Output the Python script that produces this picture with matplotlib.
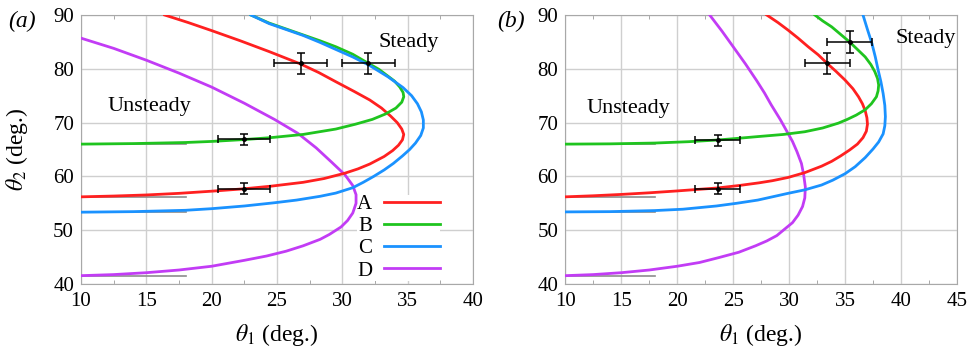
import matplotlib
matplotlib.use('Agg')
import matplotlib.pyplot as plt
from matplotlib.ticker import MultipleLocator

plt.rcParams['font.family'] = ['Liberation Serif', 'DejaVu Serif']
plt.rcParams['mathtext.fontset'] = 'stix'

# colours of the four cases
colors = {'A': '#ff2020', 'B': '#1fc41f', 'C': '#1a92ff', 'D': '#c23cf5'}

# ---- panel (a): boundary curves (theta1, theta2) ----
a_A_t1 = [16.4, 18.2, 20.0, 22.2, 24.4, 26.8, 28.2, 29.5, 30.9, 32.1, 33.0, 33.7, 34.2, 34.55, 34.7, 34.6, 34.3, 33.85,
          33.2, 32.1, 31.2, 30.2, 28.6, 27.0, 24.6, 22.5, 20.0, 17.5, 15.0, 12.5, 10.0]
a_A_t2 = [90.0, 88.6, 87.1, 85.2, 83.2, 80.9, 79.3, 77.6, 75.8, 74.2, 72.7, 71.2, 70.0, 68.8, 67.8, 66.8, 65.8, 64.8,
          63.7, 62.3, 61.4, 60.6, 59.6, 58.9, 58.2, 57.7, 57.25, 56.85, 56.55, 56.35, 56.2]
a_B_t1 = [23.0, 24.4, 25.7, 27.0, 28.3, 29.5, 30.8, 32.0, 32.8, 33.4, 34.0, 34.4, 34.65, 34.7, 34.55, 34.1, 33.3, 32.3,
          31.0, 29.5, 27.0, 24.5, 22.5, 20.0, 18.0, 14.0, 10.0]
a_B_t2 = [90.0, 88.5, 87.4, 86.3, 85.2, 84.1, 82.7, 81.0, 79.9, 78.8, 77.7, 76.6, 75.6, 74.8, 73.8, 72.7, 71.6, 70.6,
          69.7, 68.8, 67.8, 67.2, 66.85, 66.5, 66.3, 66.1, 66.0]
a_C_t1 = [23.0, 24.4, 25.7, 27.0, 28.3, 29.5, 30.8, 32.1, 33.5, 34.65, 35.3, 35.75, 36.05, 36.2, 36.2, 36.0, 35.6, 35.15,
          34.6, 33.9, 33.2, 32.4, 31.6, 30.8, 29.5, 28.3, 26.5, 24.8, 22.5, 20.0, 18.0, 14.0, 10.0]
a_C_t2 = [90.0, 88.4, 87.3, 86.2, 84.9, 83.6, 82.2, 80.6, 78.5, 76.5, 75.0, 73.5, 72.0, 70.5, 69.0, 67.6, 66.2, 65.0,
          63.8, 62.4, 61.2, 60.0, 58.9, 57.9, 56.9, 56.3, 55.6, 55.1, 54.5, 54.0, 53.7, 53.45, 53.35]
a_D_t1 = [10.0, 12.5, 15.0, 17.5, 20.0, 22.5, 24.8, 26.6, 28.0, 29.2, 30.2, 30.8, 31.05, 31.05, 30.8, 30.4, 29.9, 29.0,
          28.3, 27.0, 25.7, 24.2, 22.5, 20.0, 17.5, 15.0, 12.5, 10.0]
a_D_t2 = [85.7, 83.8, 81.6, 79.2, 76.6, 73.6, 70.6, 68.0, 65.3, 62.6, 60.3, 58.3, 56.6, 55.0, 53.2, 51.8, 50.6, 49.2,
          48.3, 47.1, 46.1, 45.2, 44.4, 43.3, 42.6, 42.1, 41.75, 41.55]

# ---- panel (b) ----
b_A_t1 = [28.0, 29.0, 29.9, 30.8, 31.7, 32.6, 33.4, 34.2, 35.0, 35.7, 36.2, 36.55, 36.8, 36.95, 37.0, 36.9, 36.6, 36.1,
          35.4, 34.6, 33.8, 32.9, 31.4, 29.9, 28.5, 27.3, 25.5, 23.6, 20.0, 17.5, 15.0, 12.5, 10.0]
b_A_t2 = [90.0, 88.6, 87.2, 85.7, 84.1, 82.6, 81.0, 79.5, 77.9, 76.3, 74.8, 73.5, 72.2, 70.9, 69.7, 68.4, 67.2, 66.0,
          64.9, 63.8, 62.8, 61.9, 60.7, 59.8, 59.2, 58.8, 58.3, 57.85, 57.3, 56.95, 56.65, 56.4, 56.2]
b_B_t1 = [32.3, 33.0, 33.8, 34.6, 35.4, 36.1, 36.8, 37.3, 37.65, 37.9, 38.0, 37.95, 37.8, 37.35, 36.8, 36.0, 35.2, 34.4,
          33.0, 31.4, 29.5, 27.2, 25.0, 23.5, 21.0, 18.0, 14.0, 10.0]
b_B_t2 = [90.0, 88.9, 87.8, 86.4, 85.0, 83.6, 82.2, 80.8, 79.5, 78.2, 77.0, 75.9, 74.8, 73.5, 72.4, 71.4, 70.6, 69.9,
          69.0, 68.3, 67.8, 67.4, 67.0, 66.75, 66.45, 66.2, 66.05, 66.0]
b_C_t1 = [36.6, 37.0, 37.4, 37.7, 37.95, 38.2, 38.4, 38.55, 38.6, 38.55, 38.4, 38.0, 37.5, 36.8, 35.9, 35.0, 33.9, 32.9,
          31.4, 29.9, 28.5, 27.2, 25.3, 23.5, 20.5, 18.0, 14.0, 10.0]
b_C_t2 = [90.0, 87.3, 84.7, 82.2, 79.8, 77.6, 75.4, 73.2, 71.1, 69.4, 67.9, 66.4, 65.1, 63.5, 61.8, 60.5, 59.3, 58.4,
          57.5, 56.85, 56.2, 55.6, 55.0, 54.5, 53.9, 53.65, 53.45, 53.4]
b_D_t1 = [22.9, 24.0, 25.0, 26.1, 27.1, 27.8, 28.4, 29.2, 29.9, 30.3, 30.7, 31.1, 31.3, 31.45, 31.4, 31.2, 30.8, 30.3,
          29.6, 28.9, 28.0, 27.0, 25.5, 23.7, 22.0, 20.0, 17.5, 15.0, 12.5, 10.0]
b_D_t2 = [90.0, 87.0, 84.1, 80.9, 77.8, 75.5, 73.3, 70.6, 68.0, 66.5, 64.6, 62.4, 60.3, 58.0, 56.0, 54.4, 52.8, 51.4,
          50.2, 49.0, 48.0, 47.1, 45.9, 44.9, 44.0, 43.3, 42.6, 42.1, 41.75, 41.55]

# asymptote levels (short grey lines)
asym_t2 = [66.0, 56.2, 53.35, 41.4]
asym_t1 = [10.0, 18.0]

# experimental points with error bars
a_exp_t1 = [26.8, 32.0, 22.5, 22.5]
a_exp_t2 = [81.0, 81.0, 66.9, 57.7]
a_exp_x_err = [2.0, 2.0, 2.0, 2.0]
a_exp_y_err = [2.0, 2.0, 1.0, 1.0]
b_exp_t1 = [35.4, 33.4, 23.6, 23.6]
b_exp_t2 = [85.0, 81.0, 66.7, 57.7]
b_exp_x_err = [2.0, 2.0, 2.0, 2.0]
b_exp_y_err = [2.0, 2.0, 1.0, 1.0]

fig = plt.figure(figsize=(9.73, 3.5), dpi=100)
ax1 = fig.add_axes([81 / 973, 66 / 350, 392 / 973, 269 / 350])
ax2 = fig.add_axes([565.3 / 973, 66 / 350, 391.7 / 973, 269 / 350])

panels = [
    (ax1, {'A': (a_A_t1, a_A_t2), 'B': (a_B_t1, a_B_t2), 'C': (a_C_t1, a_C_t2), 'D': (a_D_t1, a_D_t2)},
     (a_exp_t1, a_exp_t2, a_exp_x_err, a_exp_y_err), 40),
    (ax2, {'A': (b_A_t1, b_A_t2), 'B': (b_B_t1, b_B_t2), 'C': (b_C_t1, b_C_t2), 'D': (b_D_t1, b_D_t2)},
     (b_exp_t1, b_exp_t2, b_exp_x_err, b_exp_y_err), 45),
]

for ax, curves, exp, xmax in panels:
    for lev in asym_t2:
        ax.plot(asym_t1, [lev, lev], color='#8c8c8c', lw=1.2, zorder=2)
    for key in ['D', 'A', 'B', 'C']:
        t1, t2 = curves[key]
        ax.plot(t1, t2, color=colors[key], lw=2.0, label=key, zorder=3,
                solid_joinstyle='round')
    ax.errorbar(exp[0], exp[1], xerr=exp[2], yerr=exp[3], fmt='o', color='black',
                ms=2.5, elinewidth=1.1, capsize=3, capthick=1.1, zorder=4)
    ax.set_xlim(10, xmax)
    ax.set_ylim(40, 90)
    ax.xaxis.set_major_locator(MultipleLocator(5))
    ax.xaxis.set_minor_locator(MultipleLocator(2.5))
    ax.yaxis.set_major_locator(MultipleLocator(10))
    ax.grid(True, which='major', color='#cfcfcf', lw=1.0, zorder=0)
    ax.set_axisbelow(True)
    ax.tick_params(which='both', direction='in', top=True, right=True, colors='#999999',
                   labelcolor='black', labelsize=15)
    ax.tick_params(which='major', length=0)
    ax.tick_params(which='minor', length=3)
    ax.tick_params(axis='x', pad=6)
    ax.tick_params(axis='y', pad=5)
    for sp in ax.spines.values():
        sp.set_color('#a8a8a8')
    ax.set_xlabel(r'$\theta_1$ (deg.)', fontsize=17)
    ax.xaxis.set_label_coords(0.5, -0.14)

ax1.set_ylabel(r'$\theta_2$ (deg.)', fontsize=17)
ax1.yaxis.set_label_coords(-0.13, 0.5)

ax1.text(12.0, 72.9, 'Unsteady', fontsize=16, va='center', ha='left')
ax1.text(32.8, 84.8, 'Steady', fontsize=16, va='center', ha='left')
ax2.text(11.9, 72.7, 'Unsteady', fontsize=16, va='center', ha='left')
ax2.text(39.5, 85.7, 'Steady', fontsize=16, va='center', ha='left')

handles, labels = ax1.get_legend_handles_labels()
order = [labels.index(k) for k in ['A', 'B', 'C', 'D']]
leg = ax1.legend([handles[i] for i in order], [labels[i] for i in order],
                 loc='lower right', bbox_to_anchor=(0.943, -0.026), fontsize=15,
                 markerfirst=False, handlelength=2.72, handletextpad=0.55,
                 labelspacing=0.12, borderpad=0.0, frameon=True, fancybox=False)
leg.get_frame().set_facecolor('white')
leg.get_frame().set_edgecolor('none')
leg.get_frame().set_alpha(1)
leg.set_zorder(2.4)  # keep spines drawn over the white box

fig.text(8 / 973, 1 - 21 / 350, '(a)', fontsize=17, style='italic', va='center', ha='left')
fig.text(497 / 973, 1 - 21 / 350, '(b)', fontsize=17, style='italic', va='center', ha='left')

fig.savefig('out.png', dpi=100)
